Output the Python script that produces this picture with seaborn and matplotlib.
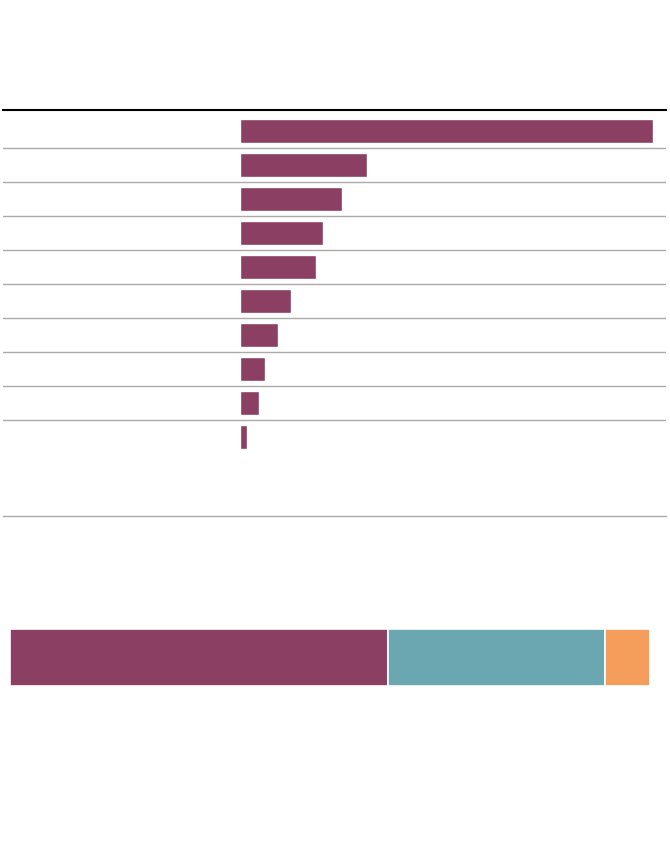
import numpy as np
import pandas as pd
import matplotlib
matplotlib.use("Agg")
import matplotlib.pyplot as plt
import seaborn as sns

# ranked bars (arbitrary units)
categories = ["r1", "r2", "r3", "r4", "r5", "r6", "r7", "r8", "r9", "r10"]
values = [413, 127, 102, 83, 76, 51, 38, 25, 19, 7]

# stacked share bar at the bottom
share_labels = ["a", "b", "c"]
share_values = [59, 34, 7]
share_colors = ["#8b3f62", "#6aa7b0", "#f59d5b"]

sns.set_theme(style="white")

fig = plt.figure(figsize=(6.7, 8.46), dpi=100)
W, H = 670, 846

# main ranked bar chart
ax = fig.add_axes([3 / W, 1 - 516 / H, 663 / W, 406 / H])
df = pd.DataFrame({"cat": categories, "val": values})
sns.barplot(data=df, y="cat", x="val", orient="h", color="#8b3f62",
            saturation=1, width=0.72, ax=ax)
ax.set_xlim(-237, 426)
ax.set_ylim(11.32, -0.62)
for k in range(len(categories) - 1):
    ax.axhline(k + 0.5, color="#aaaaaa", lw=1)
for s in ["left", "right"]:
    ax.spines[s].set_visible(False)
ax.spines["top"].set_color("black")
ax.spines["top"].set_linewidth(1.5)
ax.spines["bottom"].set_color("#aaaaaa")
ax.spines["bottom"].set_linewidth(1)
ax.set_xticks([])
ax.set_yticks([])
ax.set_xlabel("")
ax.set_ylabel("")

# stacked share bar
ax2 = fig.add_axes([10 / W, 1 - 686 / H, 640 / W, 57 / H])
left = np.concatenate([[0], np.cumsum(share_values)[:-1]])
ax2.barh([0] * len(share_values), share_values, left=left, height=1,
         color=share_colors, edgecolor="white", linewidth=1.2)
ax2.set_xlim(0, sum(share_values))
ax2.set_ylim(-0.5, 0.5)
ax2.axis("off")

fig.savefig("out.png", dpi=100)
